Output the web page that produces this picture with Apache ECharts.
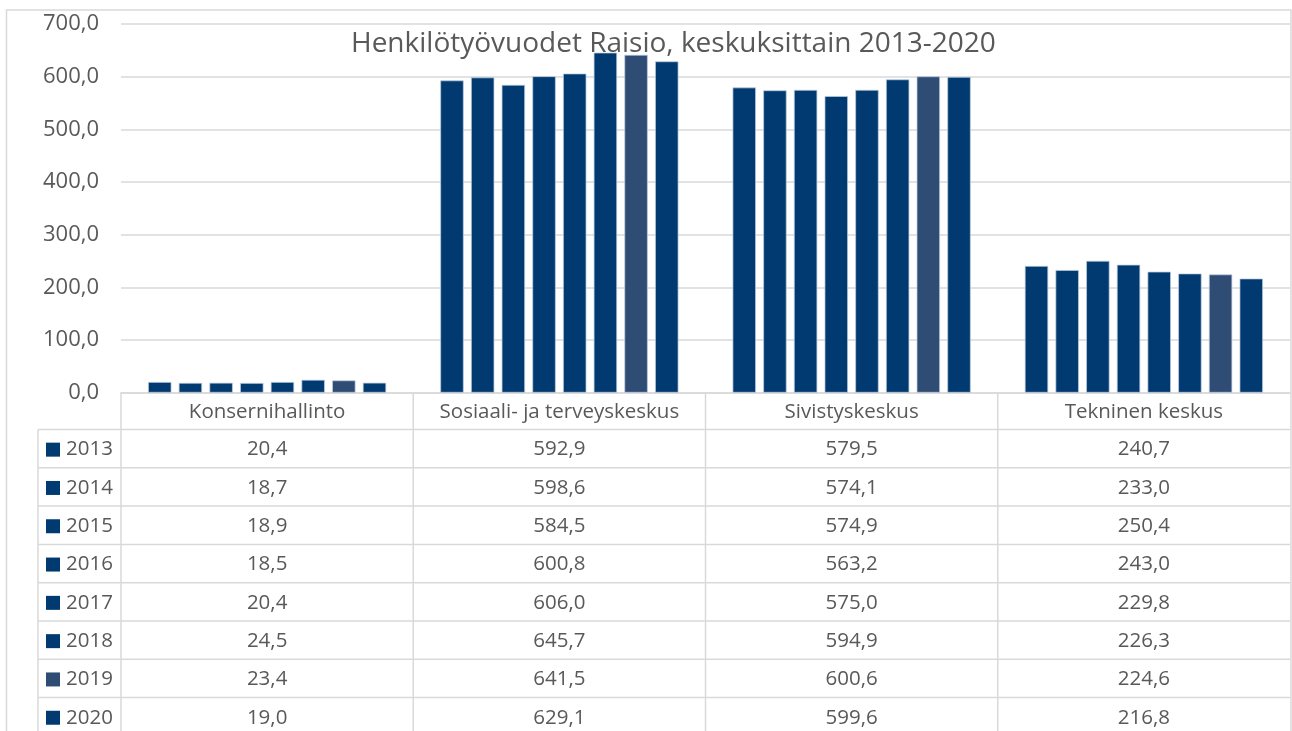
<!DOCTYPE html>
<html><head><meta charset="utf-8">
<script src="https://cdn.jsdelivr.net/npm/echarts@6/dist/echarts.min.js"></script>
<style>html,body{margin:0;padding:0;background:#fff}#c{width:1292px;height:731px}</style>
</head><body><div id="c"></div>
<script>
// ---- data ----
const chartTitle = 'Henkilötyövuodet Raisio, keskuksittain 2013-2020';
const categories = ['Konsernihallinto', 'Sosiaali- ja terveyskeskus', 'Sivistyskeskus', 'Tekninen keskus'];
const years = ['2013', '2014', '2015', '2016', '2017', '2018', '2019', '2020'];
const v2013 = [20.4, 592.9, 579.5, 240.7];
const v2014 = [18.7, 598.6, 574.1, 233.0];
const v2015 = [18.9, 584.5, 574.9, 250.4];
const v2016 = [18.5, 600.8, 563.2, 243.0];
const v2017 = [20.4, 606.0, 575.0, 229.8];
const v2018 = [24.5, 645.7, 594.9, 226.3];
const v2019 = [23.4, 641.5, 600.6, 224.6];
const v2020 = [19.0, 629.1, 599.6, 216.8];
const yearValues = [v2013, v2014, v2015, v2016, v2017, v2018, v2019, v2020];
const yMin = 0, yMax = 700, yStep = 100;

// ---- style ----
const yearColors = ['#003A70', '#003A70', '#003A70', '#003A70', '#003A70', '#003A70', '#2E4C74', '#003A70'];
const textColor = '#595959';
const lineColor = '#D9D9D9';
const FONT = '"Open Sans", "Noto Sans", sans-serif';
const fmt = v => v.toFixed(1).replace('.', ',');

const W = 1292, H = 731;
const gridLeft = 121, gridRight = 1290, gridTop = 24, gridBottomY = 392.7;

const chart = echarts.init(document.getElementById('c'), null, {renderer: 'canvas'});

const series = years.map((y, i) => ({
  name: y,
  type: 'bar',
  data: yearValues[i],
  barGap: '31%',
  barCategoryGap: '18.5%',
  itemStyle: {color: yearColors[i], borderColor: 'rgba(190,205,225,0.9)', borderWidth: 0.8},
  emphasis: {disabled: true},
  animation: false
}));

chart.setOption({
  animation: false,
  backgroundColor: '#fff',
  title: {
    text: chartTitle,
    left: 346, top: 25,
    textStyle: {color: textColor, fontFamily: FONT, fontSize: 28, fontWeight: 'normal'}
  },
  grid: {left: gridLeft, right: W - gridRight, top: gridTop, bottom: H - gridBottomY, containLabel: false},
  xAxis: {
    type: 'category', data: categories,
    axisLine: {show: true, lineStyle: {color: lineColor, width: 1.5}},
    axisTick: {show: false},
    axisLabel: {show: false},
    splitLine: {show: false}
  },
  yAxis: {
    type: 'value', min: yMin, max: yMax, interval: yStep,
    axisLine: {show: false}, axisTick: {show: false},
    axisLabel: {color: textColor, fontFamily: FONT, fontSize: 22, margin: 22, formatter: v => fmt(v)},
    splitLine: {lineStyle: {color: lineColor, width: 1.5}}
  },
  series: series
});

// ---- data table drawn with graphic elements ----
const axisY = chart.convertToPixel({yAxisIndex: 0}, 0);
const colW = (gridRight - gridLeft) / categories.length;
const headerBottom = axisY + 36.8;
const rowH = 38.3;
const labelLeft = 38;
const g = [];
const lineStyle = {stroke: lineColor, lineWidth: 1.5};

// outer border
g.push({type: 'rect', shape: {x: 6.5, y: 10, width: gridRight + 1 - 6.5, height: 800}, style: {fill: null, stroke: lineColor, lineWidth: 1.5}, silent: true});

// vertical lines
for (let k = 0; k < categories.length; k++) {
  const x = gridLeft + k * colW;
  g.push({type: 'line', shape: {x1: x, y1: axisY, x2: x, y2: H + 10}, style: lineStyle, silent: true});
}
g.push({type: 'line', shape: {x1: labelLeft, y1: headerBottom, x2: labelLeft, y2: H + 10}, style: lineStyle, silent: true});

// horizontal lines
for (let r = 0; r < years.length; r++) {
  const y = headerBottom + r * rowH;
  g.push({type: 'line', shape: {x1: labelLeft, y1: y, x2: gridRight, y2: y}, style: lineStyle, silent: true});
}

// header texts
categories.forEach((c, k) => {
  g.push({type: 'text', silent: true, style: {
    text: c, x: gridLeft + (k + 0.5) * colW, y: (axisY + headerBottom) / 2 + 1,
    align: 'center', verticalAlign: 'middle', fill: textColor, font: '20.5px ' + FONT
  }});
});

// rows
years.forEach((yr, r) => {
  const cy = headerBottom + (r + 0.5) * rowH + 1;
  g.push({type: 'rect', silent: true, shape: {x: 46, y: cy - 7, width: 14, height: 14}, style: {fill: yearColors[r]}});
  g.push({type: 'text', silent: true, style: {
    text: yr, x: 66, y: cy, align: 'left', verticalAlign: 'middle', fill: textColor, font: '20.5px ' + FONT
  }});
  yearValues[r].forEach((v, k) => {
    g.push({type: 'text', silent: true, style: {
      text: fmt(v), x: gridLeft + (k + 0.5) * colW, y: cy,
      align: 'center', verticalAlign: 'middle', fill: textColor, font: '20.5px ' + FONT
    }});
  });
});

chart.setOption({graphic: {elements: g}});
</script>
</body></html>
